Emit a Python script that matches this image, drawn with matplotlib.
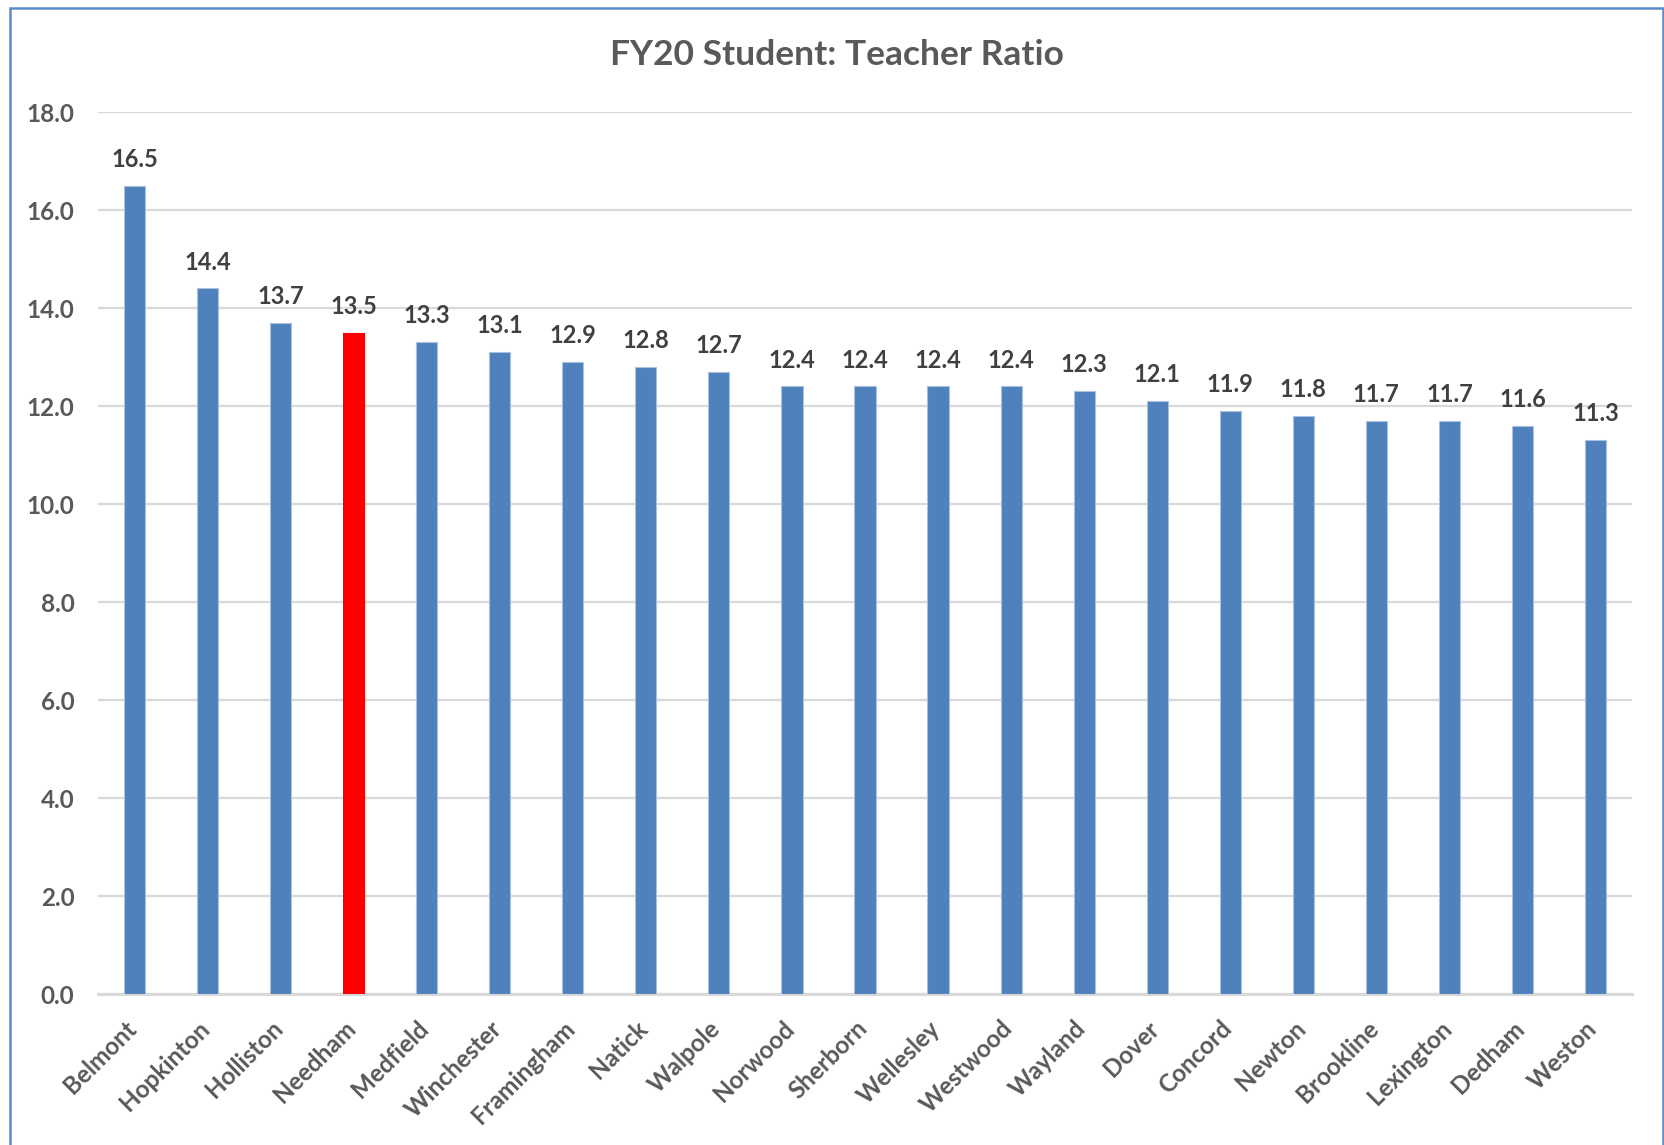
import matplotlib
matplotlib.use("Agg")
import matplotlib.pyplot as plt
from matplotlib.patches import Rectangle
import matplotlib.transforms as mtransforms

towns = ["Belmont", "Hopkinton", "Holliston", "Needham", "Medfield", "Winchester",
         "Framingham", "Natick", "Walpole", "Norwood", "Sherborn", "Wellesley",
         "Westwood", "Wayland", "Dover", "Concord", "Newton", "Brookline",
         "Lexington", "Dedham", "Weston"]
ratios = [16.5, 14.4, 13.7, 13.5, 13.3, 13.1, 12.9, 12.8, 12.7, 12.4, 12.4, 12.4,
          12.4, 12.3, 12.1, 11.9, 11.8, 11.7, 11.7, 11.6, 11.3]
highlight = "Needham"
yticks = [0, 2, 4, 6, 8, 10, 12, 14, 16, 18]
title = "FY20 Student: Teacher Ratio"

BLUE = "#4F81BD"
RED = "#FF0000"
TXT = "#595959"
GRID = "#D9D9D9"

plt.rcParams['font.family'] = ['Lato', 'DejaVu Sans']
plt.rcParams['font.weight'] = 'bold'

W, H = 1665, 1145
fig = plt.figure(figsize=(W / 100, H / 100), dpi=100)
ax = fig.add_axes([98 / W, 1 - 994 / H, (1632 - 98) / W, (994 - 112) / H])

colors = [RED if t == highlight else BLUE for t in towns]
x = list(range(len(towns)))
ax.bar(x, ratios, width=0.29, color=colors, zorder=3,
       edgecolor=[("#A9C0E0" if c == BLUE else RED) for c in colors], linewidth=0.8)

for xi, v in zip(x, ratios):
    ax.annotate(f"{v:.1f}", (xi, v), xytext=(0, 19), textcoords="offset points",
                ha="center", va="center", fontsize=17, fontweight="bold", color="#404040")

ax.set_xlim(-0.5, len(towns) - 0.5)
ax.set_ylim(0, 18)
ax.set_yticks(yticks)
ax.set_yticklabels([f"{t:.1f}" for t in yticks], fontsize=17.5, fontweight="bold", color=TXT)
ax.yaxis.grid(True, color=GRID, linewidth=1.6, zorder=0)
ax.set_axisbelow(True)
ax.tick_params(axis="y", length=0, pad=17)
ax.tick_params(axis="x", length=0, pad=4)
ax.set_xticks(x)
ax.set_xticklabels(towns, rotation=45, ha="right", rotation_mode="anchor",
                   fontsize=17.5, fontweight="bold", color=TXT)
for lbl in ax.get_xticklabels():
    lbl.set_transform(lbl.get_transform() + mtransforms.ScaledTranslation(-0.10, -0.17, fig.dpi_scale_trans))
for s in ["top", "right", "left"]:
    ax.spines[s].set_visible(False)
ax.spines["bottom"].set_color(GRID)
ax.spines["bottom"].set_linewidth(2.2)

fig.text(837 / W, 1 - 55 / H, title, ha="center", va="center", fontsize=25.5,
         fontweight="bold", color=TXT)

frame = Rectangle((10 / W, -0.05), (1663 - 10) / W, 1 - 8 / H + 0.05,
                  transform=fig.transFigure, fill=False, edgecolor="#5B8BC9", linewidth=1.8)
fig.add_artist(frame)

fig.savefig("out.png", dpi=100)
